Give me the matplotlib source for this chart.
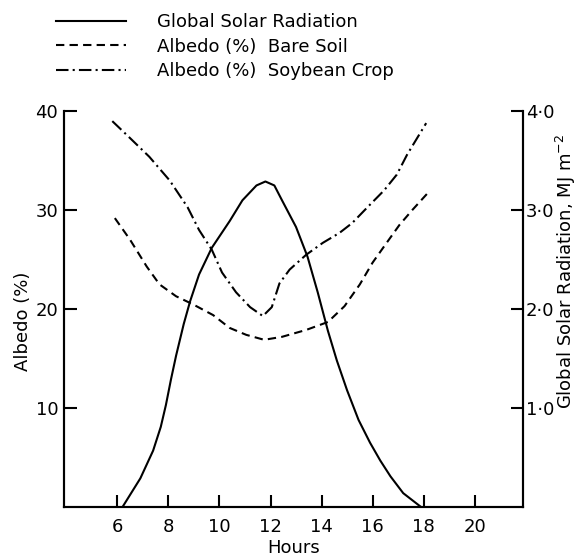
import matplotlib
matplotlib.use("Agg")
import matplotlib.pyplot as plt

# global solar radiation (MJ m-2)
SOLAR_HOURS = [6.2, 6.9, 7.4, 7.7, 7.9, 8.1, 8.3, 8.6, 8.85, 9.2, 9.7, 10.4, 10.9,
               11.45, 11.8, 12.15, 12.45, 13.0, 13.45, 13.85, 14.25, 14.6, 15.0,
               15.45, 15.9, 16.3, 16.7, 17.2, 17.9]
SOLAR = [0.0, 0.29, 0.57, 0.81, 1.03, 1.29, 1.53, 1.85, 2.08, 2.35, 2.62, 2.89, 3.10,
         3.25, 3.29, 3.25, 3.10, 2.83, 2.53, 2.17, 1.78, 1.48, 1.18,
         0.88, 0.65, 0.47, 0.31, 0.14, 0.0]

# albedo (%) bare soil, dashed curve
SOIL_HOURS = [5.9, 6.5, 7.15, 7.65, 8.3, 8.95, 9.75, 10.4, 11.05, 11.75, 12.45,
              13.4, 14.25, 14.9, 15.5, 16.0, 16.55, 17.05, 17.55, 18.15]
SOIL = [29.2, 27.0, 24.3, 22.5, 21.3, 20.5, 19.4, 18.1, 17.4, 16.9, 17.2,
        17.9, 18.7, 20.3, 22.5, 24.7, 26.7, 28.5, 30.0, 31.7]

# albedo (%) soybean crop, dash-dot curve
SOY_HOURS = [5.8, 6.45, 7.25, 8.05, 8.75, 9.2, 9.7, 10.1, 10.65, 11.2, 11.7, 12.05,
             12.35, 12.75, 13.4, 14.05, 14.7, 15.2, 15.8, 16.45, 16.95, 17.35, 18.1]
SOY = [39.0, 37.4, 35.4, 33.0, 30.3, 28.0, 26.0, 23.7, 21.7, 20.2, 19.3, 20.2,
       22.6, 24.0, 25.5, 26.7, 27.7, 28.7, 30.3, 32.0, 33.6, 35.6, 38.8]

X_TICKS = [6, 8, 10, 12, 14, 16, 18, 20]
ALB_TICKS = [10, 20, 30, 40]
RAD_TICKS = [1.0, 2.0, 3.0, 4.0]
RAD_LABELS = ["1·0", "2·0", "3·0", "4·0"]

FS = 13
LW = 1.5
plt.rcParams["font.family"] = "DejaVu Sans"

fig = plt.figure(figsize=(5.8, 5.59), dpi=100)
ax = fig.add_axes([0.110, 0.093, 0.792, 0.708])
ax2 = ax.twinx()

l_sol, = ax2.plot(SOLAR_HOURS, SOLAR, color="black", lw=LW, solid_joinstyle="round")
l_soil, = ax.plot(SOIL_HOURS, SOIL, color="black", lw=LW, linestyle=(0, (4, 2.5)))
l_soy, = ax.plot(SOY_HOURS, SOY, color="black", lw=LW, linestyle=(0, (6, 2, 1, 2)))

ax.set_xlim(3.9, 21.9)
ax.set_ylim(0, 40)
ax2.set_ylim(0, 4.0)

ax.set_xticks(X_TICKS)
ax.set_yticks(ALB_TICKS)
ax2.set_yticks(RAD_TICKS)
ax2.set_yticklabels(RAD_LABELS)

for a in (ax, ax2):
    for s in a.spines.values():
        s.set_linewidth(LW)
    a.spines["top"].set_visible(False)
ax.tick_params(direction="in", length=9, width=LW, labelsize=FS, pad=4)
ax.tick_params(axis="x", pad=8)
ax2.tick_params(direction="in", length=9, width=LW, labelsize=FS, pad=2)

ax.set_xlabel("Hours", fontsize=FS, labelpad=2)
fig.text(0.040, 0.425, "Albedo (%)", rotation=90, fontsize=FS, ha="center", va="center")
fig.text(0.975, 0.515, "Global Solar Radiation, MJ m$^{-2}$", rotation=90,
         fontsize=FS, ha="center", va="center")

fig.legend([l_sol, l_soil, l_soy],
           ["Global Solar Radiation", "Albedo (%)  Bare Soil", "Albedo (%)  Soybean Crop"],
           loc="upper left", bbox_to_anchor=(0.068, 1.005), frameon=False, fontsize=FS,
           handlelength=3.9, handletextpad=1.7, labelspacing=0.35)

fig.savefig("out.png", dpi=100)
